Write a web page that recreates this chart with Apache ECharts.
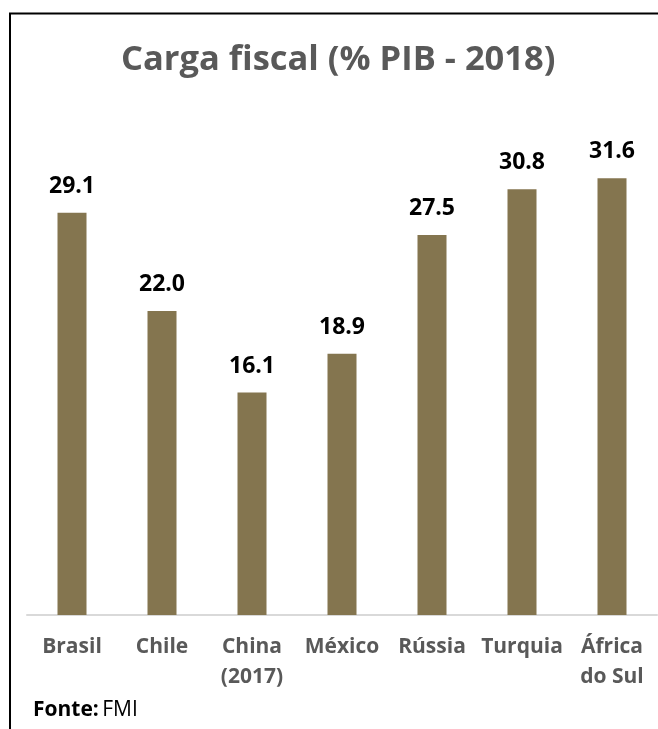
<!DOCTYPE html>
<html><head><meta charset="utf-8">
<script src="https://cdn.jsdelivr.net/npm/echarts@6/dist/echarts.min.js"></script>
<style>html,body{margin:0;padding:0;background:#fff}#c{width:658px;height:729px}</style>
</head><body><div id="c"></div>
<script>
const categories = ['Brasil', 'Chile', 'China\n(2017)', 'México', 'Rússia', 'Turquia', 'África\ndo Sul'];
const values = [29.1, 22.0, 16.1, 18.9, 27.5, 30.8, 31.6];
const titleText = 'Carga fiscal (% PIB - 2018)';

const chart = echarts.init(document.getElementById('c'), null, {renderer: 'canvas'});
chart.setOption({
  animation: false,
  backgroundColor: '#fff',
  title: {
    text: titleText, left: 116, top: 38,
    textStyle: {fontFamily: 'Open Sans', fontWeight: 'bold', fontSize: 34.5, color: '#595959'}
  },
  grid: {left: 27, width: 630, top: 131.3, bottom: 114, containLabel: false},
  xAxis: {
    type: 'category', data: categories,
    axisLine: {show: true, lineStyle: {color: '#d9d9d9', width: 2}},
    axisTick: {show: false},
    axisLabel: {interval: 0, margin: 17, fontFamily: 'Open Sans', fontWeight: 'bold', fontSize: 21, color: '#595959', lineHeight: 30}
  },
  yAxis: {type: 'value', min: 0, max: 35, show: false, splitLine: {show: false}},
  series: [{
    type: 'bar', data: values, barWidth: 29,
    itemStyle: {color: '#84754f'},
    label: {show: true, position: 'top', distance: 15, formatter: p => p.value.toFixed(1),
      fontFamily: 'Open Sans', fontWeight: 'bold', fontSize: 23, color: '#000'}
  }],
  graphic: [
    {type: 'rect', shape: {x: 10, y: 13.5, width: 700, height: 800}, style: {fill: 'none', stroke: '#000', lineWidth: 2}, silent: true},
    {type: 'text', left: 33, top: 700, style: {
      text: '{b|Fonte:} {n|FMI}',
      rich: {b: {fontFamily: 'Open Sans', fontWeight: 'bold', fontSize: 21, fill: '#000'},
             n: {fontFamily: 'Open Sans', fontSize: 21, fill: '#000'}}
    }}
  ]
});
</script></body></html>
